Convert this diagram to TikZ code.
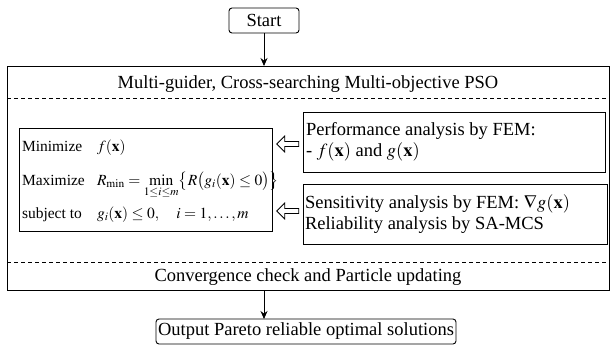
\documentclass[tikz,border=0pt]{standalone}
\usepackage{mathptmx}
\usepackage{fontspec}
\setmainfont{Liberation Serif}
\usetikzlibrary{shapes.arrows,arrows.meta}
\begin{document}
\begin{tikzpicture}[x=1pt,y=-1pt,
  every node/.style={inner sep=0pt, outer sep=0pt},
  roundbox/.style={draw, rounded corners=3pt, line width=0.9pt, inner xsep=2pt, font=\fontsize{18.5}{20}\selectfont},
  plainbox/.style={draw, line width=0.8pt},
  bigtxt/.style={font=\fontsize{18.5}{21}\selectfont},
  rowtxt/.style={anchor=base west, font=\fontsize{15.5}{17}\selectfont},
  hollow/.style={single arrow, draw, line width=0.8pt, shape border rotate=180, minimum height=22pt, minimum width=16pt, single arrow head extend=3.5pt, inner sep=1.2pt},
  conn/.style={-{Stealth[length=8pt,width=7pt]}, line width=0.8pt}]
\useasboundingbox (0,0) rectangle (610,346);
\node[roundbox, minimum width=70pt, minimum height=25pt] (start) at (264,20.5) {Start};
\node[plainbox, minimum width=602pt, minimum height=224pt] (main) at (308,178) {};
\node[bigtxt] (title) at (308,84) {Multi-guider, Cross-searching Multi-objective PSO};
\coordinate (d1l) at (7,98); \coordinate (d1r) at (609,98);
\coordinate (d2l) at (7,262); \coordinate (d2r) at (609,262);
\draw[dashed, line width=0.6pt, dash pattern=on 4pt off 3pt] (d1l) -- (d1r);
\draw[dashed, line width=0.6pt, dash pattern=on 4pt off 3pt] (d2l) -- (d2r);
\node[plainbox, minimum width=253pt, minimum height=103pt, anchor=north west] (opt) at (19,128) {};
\node[rowtxt] (r1a) at (22,151) {Minimize};
\node[rowtxt] (r1b) at (97,151) {$f(\mathbf{x})$};
\node[rowtxt] (r2a) at (22,185) {Maximize};
\node[rowtxt] (r2b) at (97,185) {$R_{\min}=\min\limits_{1\le i\le m}\bigl\{R\bigl(g_i(\mathbf{x})\le 0\bigr)\bigr\}$};
\node[rowtxt] (r3a) at (22,218) {subject to};
\node[rowtxt] (r3b) at (97,218) {$g_i(\mathbf{x})\le 0,\quad i=1,\dots,m$};
\node[plainbox, minimum width=302pt, minimum height=60pt, anchor=north west] (perf) at (303,112) {};
\node[bigtxt, anchor=west, align=left] (perftxt) at (306,142) {Performance analysis by FEM:\\- $f(\mathbf{x})$ and $g(\mathbf{x})$};
\node[plainbox, minimum width=304pt, minimum height=60pt, anchor=north west] (sens) at (303,184) {};
\node[bigtxt, anchor=west, align=left] (senstxt) at (305,214) {Sensitivity analysis by FEM: $\nabla g(\mathbf{x})$\\Reliability analysis by SA-MCS};
\node[hollow] (a1) at (289,144) {};
\node[hollow] (a2) at (289,211) {};
\node[bigtxt] (conv) at (308,277) {Convergence check and Particle updating};
\node[roundbox, minimum height=25pt] (out) at (306,331.5) {Output Pareto reliable optimal solutions};
\coordinate (bt) at (264,290);
\draw[conn] (start.south) -- (start.south |- main.north);
\draw[conn] (bt) -- (bt |- out.north);
\end{tikzpicture}
\end{document}
